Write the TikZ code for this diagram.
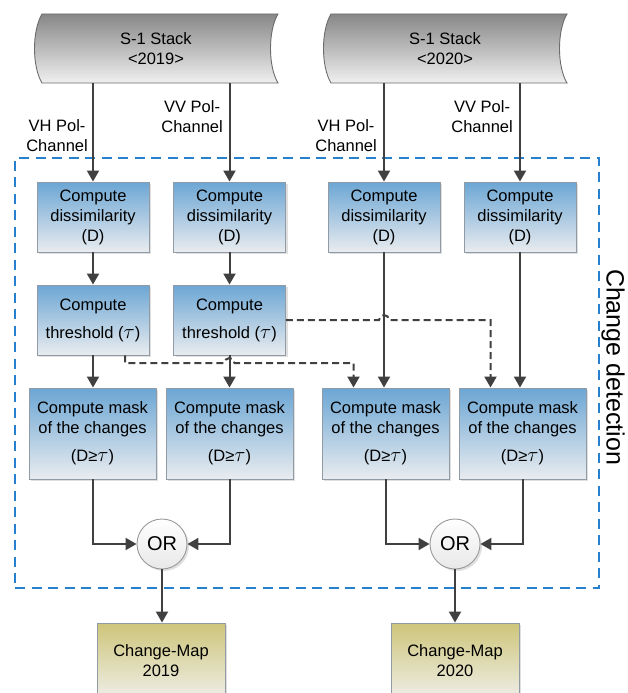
\documentclass[tikz,border=0pt]{standalone}
\usepackage{fontspec}
\setmainfont{Liberation Sans}
\usetikzlibrary{arrows.meta,calc,shadows}
\definecolor{arrowgray}{RGB}{64,64,64}
\definecolor{boxtop}{RGB}{108,166,212}
\definecolor{boxbot}{RGB}{233,236,239}
\definecolor{boxborder}{RGB}{145,155,165}
\definecolor{cdblue}{RGB}{38,128,206}
\definecolor{maptop}{RGB}{206,197,122}
\definecolor{mapbot}{RGB}{238,238,232}
\definecolor{stacktop}{RGB}{135,135,135}
\definecolor{stackbot}{RGB}{240,240,240}
\tikzset{
  boxshadow/.style={drop shadow={shadow xshift=2pt, shadow yshift=-2pt, opacity=0.25, fill=gray}},
  procbox/.style={draw=boxborder, line width=0.9pt, top color=boxtop, bottom color=boxbot,
    minimum width=112pt, minimum height=70pt, align=center, inner sep=2pt, boxshadow},
  maskbox/.style={procbox, minimum width=127pt, minimum height=91pt},
  mapbox/.style={draw=boxborder, line width=0.9pt, top color=maptop, bottom color=mapbot,
    minimum width=128pt, minimum height=76pt, align=center, inner sep=2pt, boxshadow},
  orcirc/.style={circle, draw=gray!80, line width=0.9pt, top color=white, bottom color=gray!18,
    minimum size=50pt, inner sep=0pt, font=\fontsize{20}{22}\selectfont, boxshadow},
  stacktxt/.style={minimum width=236pt, minimum height=69pt, align=center, inner sep=0pt},
  stackshape/.style={draw=gray!85!black, line width=0.9pt, top color=stacktop, bottom color=stackbot},
  arr/.style={draw=arrowgray, line width=2pt, -{Triangle[length=11pt,width=12pt]}},
  dasharr/.style={arr, dash pattern=on 7pt off 4pt},
  chanlbl/.style={align=center, anchor=east, inner sep=0pt},
  cdframe/.style={draw=cdblue, line width=1.5pt, dash pattern=on 10pt off 6.5pt,
    minimum width=584pt, minimum height=430pt, inner sep=0pt},
}
\newcommand{\tauglyph}{{\fontsize{21}{21}\selectfont$\tau$}}
\begin{document}
\begin{tikzpicture}[x=1pt, y=1pt, font=\fontsize{16.5}{20}\selectfont]
\useasboundingbox (0,0) rectangle (627,-693);
\clip (0,0) rectangle (627,-693);

% change detection frame
\node[cdframe] (cd) at (307,-373) {};
\node[rotate=-90, font=\fontsize{25}{28}\selectfont, inner sep=0pt] (cdlbl) at (613,-367) {Change detection};

% stacks
\coordinate (c19) at (160,-48.5);
\coordinate (c20) at (449,-48.5);
\path[stackshape] ($(c19)+(-118,34.5)$) -- ($(c19)+(118,34.5)$)
  .. controls ($(c19)+(108,18)$) and ($(c19)+(108,-18)$) .. ($(c19)+(118,-34.5)$)
  -- ($(c19)+(-118,-34.5)$)
  .. controls ($(c19)+(-128,-18)$) and ($(c19)+(-128,18)$) .. ($(c19)+(-118,34.5)$) -- cycle;
\path[stackshape] ($(c20)+(-118,34.5)$) -- ($(c20)+(118,34.5)$)
  .. controls ($(c20)+(108,18)$) and ($(c20)+(108,-18)$) .. ($(c20)+(118,-34.5)$)
  -- ($(c20)+(-118,-34.5)$)
  .. controls ($(c20)+(-128,-18)$) and ($(c20)+(-128,18)$) .. ($(c20)+(-118,34.5)$) -- cycle;
\node[stacktxt] (s19) at (c19) {\hspace*{-8pt}S-1 Stack\\\hspace*{-8pt}<2019>};
\node[stacktxt] (s20) at (c20) {\hspace*{-8pt}S-1 Stack\\\hspace*{-8pt}<2020>};

% channel labels
\node[chanlbl] (l1) at (88,-135.5) {VH Pol-\\Channel};
\node[chanlbl] (l2) at (223,-117) {VV Pol-\\Channel};
\node[chanlbl] (l3) at (377,-135.5) {VH Pol-\\Channel};
\node[chanlbl] (l4) at (513,-117) {VV Pol-\\Channel};

% process boxes
\node[procbox] (d1) at (93,-217) {Compute\\dissimilarity\\(D)};
\node[procbox] (d2) at (229.5,-217) {Compute\\dissimilarity\\(D)};
\node[procbox] (d3) at (384,-217) {Compute\\dissimilarity\\(D)};
\node[procbox] (d4) at (520,-217) {Compute\\dissimilarity\\(D)};
\node[procbox] (t1) at (93,-320) {Compute\\[8pt]threshold (\tauglyph)};
\node[procbox] (t2) at (229.5,-320) {Compute\\[8pt]threshold (\tauglyph)};
\node[maskbox] (m1) at (92.5,-433.5) {Compute mask\\of the changes\\[8pt](D≥\tauglyph)};
\node[maskbox] (m2) at (229.5,-433.5) {Compute mask\\of the changes\\[8pt](D≥\tauglyph)};
\node[maskbox] (m3) at (385.5,-433.5) {Compute mask\\of the changes\\[8pt](D≥\tauglyph)};
\node[maskbox] (m4) at (522.5,-433.5) {Compute mask\\of the changes\\[8pt](D≥\tauglyph)};
\node[orcirc] (or1) at (162,-544) {OR};
\node[orcirc] (or2) at (455,-544) {OR};
\node[mapbox] (c1) at (161,-661) {Change-Map\\2019};
\node[mapbox] (c2) at (455,-661) {Change-Map\\2020};

% solid connectors
\draw[arr] (s19.south -| d1.north) -- (d1.north);
\draw[arr] (s19.south -| d2.north) -- (d2.north);
\draw[arr] (s20.south -| d3.north) -- (d3.north);
\draw[arr] (s20.south -| d4.north) -- (d4.north);
\draw[arr] (d1) -- (t1);
\draw[arr] (d2) -- (t2);
\draw[arr] (t1.south) -- (t1.south |- m1.north);
\draw[arr] (t2.south) -- (t2.south |- m2.north);
\draw[arr] (d3.south) -- (d3.south |- m3.north);
\draw[arr] (d4.south) -- (d4.south |- m4.north);
\draw[arr] (m1.south) |- (or1.west);
\draw[arr] (m2.south) |- (or1.east);
\draw[arr] (m3.south) |- (or2.west);
\draw[arr] (m4.south) |- (or2.east);
\draw[arr] (or1.south) -- (or1.south |- c1.north);
\draw[arr] (or2.south) -- (or2.south |- c2.north);

% dashed connectors with hops
\coordinate (hop1) at (t2.south |- 0,-363);
\coordinate (hop2) at (d3.south |- t2.east);
\draw[dasharr] ([xshift=32pt]t1.south) |- ([xshift=-5pt]hop1) arc(180:0:5pt) -| ([xshift=-32pt]m3.north);
\draw[dasharr] (t2.east) -- ([xshift=-5pt]hop2) arc(180:0:5pt) -| ([xshift=-32pt]m4.north);
\end{tikzpicture}
\end{document}
